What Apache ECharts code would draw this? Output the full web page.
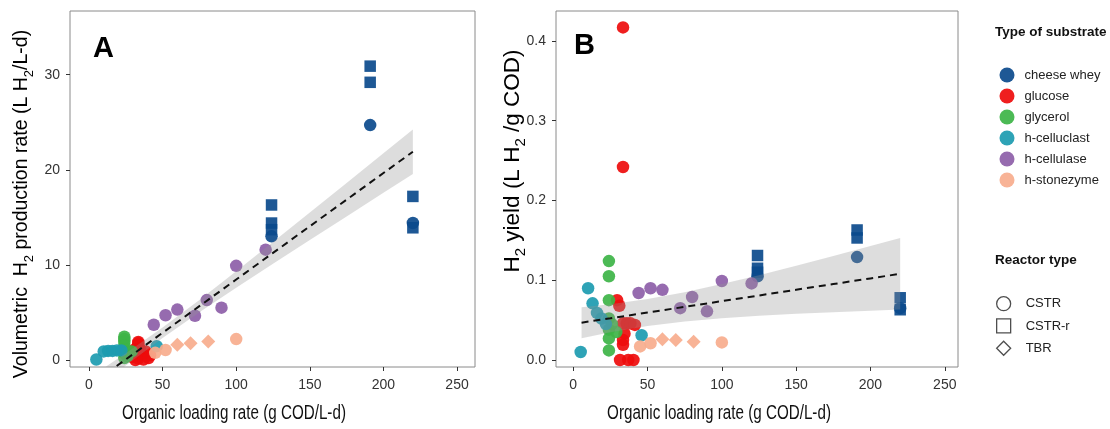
<!DOCTYPE html>
<html>
<head>
<meta charset="utf-8">
<script src="https://cdn.jsdelivr.net/npm/echarts@6/dist/echarts.min.js"></script>
<style>html,body{margin:0;padding:0;background:#fff;}#chart{width:1110px;height:429px;}</style>
</head>
<body>
<div id="chart"></div>
<script>
// ---- data ----
const substrates = ['cheese whey', 'glucose', 'glycerol', 'h-celluclast', 'h-cellulase', 'h-stonezyme'];
const reactorTypes = ['CSTR', 'CSTR-r', 'TBR'];
const xTicks = [0, 50, 100, 150, 200, 250];
const yTicksA = [0, 10, 20, 30];
const yTicksB = [0, 0.1, 0.2, 0.3, 0.4];

const cheeseOLR = [191, 191, 191, 124, 124, 124, 124, 220, 220, 220];
const cheeseReactor = ['CSTR-r', 'CSTR-r', 'CSTR', 'CSTR-r', 'CSTR-r', 'CSTR-r', 'CSTR', 'CSTR-r', 'CSTR', 'CSTR-r'];
const cheeseHPR = [30.9, 29.2, 24.7, 16.3, 14.4, 13.7, 13.0, 17.2, 14.4, 13.9];
const cheeseYield = [0.163, 0.153, 0.129, 0.131, 0.115, 0.110, 0.105, 0.078, 0.065, 0.063];

const glucoseOLR = [33.5, 33.5, 29.5, 31, 33.5, 36, 38.5, 41.5, 34.5, 33.5, 33.5, 31.5, 37, 40.5];
const glucoseReactor = ['CSTR', 'CSTR', 'CSTR', 'CSTR', 'CSTR', 'CSTR', 'CSTR', 'CSTR', 'CSTR', 'CSTR', 'CSTR', 'CSTR', 'CSTR', 'CSTR'];
const glucoseHPR = [1.75, 1.9, 0.3, 1.1, 1.5, 0.6, 0.9, 0.5, 1.2, 0.4, 0.15, 0.0, 0.05, 0.2];
const glucoseYield = [0.417, 0.242, 0.075, 0.068, 0.046, 0.046, 0.046, 0.044, 0.033, 0.025, 0.019, 0.0, 0.0, 0.0];

const glycerolOLR = [24, 24, 24, 24, 24, 24, 24, 26, 29];
const glycerolReactor = ['CSTR', 'CSTR', 'CSTR', 'CSTR', 'CSTR', 'CSTR', 'CSTR', 'CSTR', 'CSTR'];
const glycerolHPR = [2.45, 2.2, 1.9, 1.5, 1.1, 0.7, 0.2, 0.4, 0.9];
const glycerolYield = [0.124, 0.105, 0.075, 0.052, 0.038, 0.027, 0.012, 0.045, 0.035];

const celluclastOLR = [5, 10, 13, 16, 19, 22, 46];
const celluclastReactor = ['CSTR', 'CSTR', 'CSTR', 'CSTR', 'CSTR', 'CSTR', 'CSTR'];
const celluclastHPR = [0.05, 0.9, 0.95, 0.95, 1.0, 1.0, 1.45];
const celluclastYield = [0.010, 0.090, 0.071, 0.059, 0.052, 0.045, 0.031];

const cellulaseOLR = [44, 52, 60, 72, 80, 90, 100, 120];
const cellulaseReactor = ['CSTR', 'CSTR', 'CSTR', 'CSTR', 'CSTR', 'CSTR', 'CSTR', 'CSTR'];
const cellulaseHPR = [3.7, 4.7, 5.3, 4.65, 6.3, 5.5, 9.9, 11.6];
const cellulaseYield = [0.084, 0.090, 0.088, 0.065, 0.079, 0.061, 0.099, 0.096];

const stonezymeOLR = [45, 52, 60, 69, 81, 100];
const stonezymeReactor = ['CSTR', 'CSTR', 'TBR', 'TBR', 'TBR', 'CSTR'];
const stonezymeHPR = [0.75, 1.05, 1.6, 1.75, 1.93, 2.2];
const stonezymeYield = [0.017, 0.021, 0.026, 0.025, 0.023, 0.022];

// linear fits with confidence band
const fitOLR = [5.6, 25, 50, 75, 100, 125, 150, 175, 200, 220];
const fitA = [-2.12, 0.06, 2.86, 5.66, 8.46, 11.26, 14.06, 16.86, 19.66, 21.9];
const fitALow = [-2.93, -0.58, 2.31, 5.02, 7.59, 10.11, 12.61, 15.10, 17.58, 19.56];
const fitAHigh = [-1.31, 0.70, 3.41, 6.30, 9.33, 12.41, 15.51, 18.62, 21.74, 24.24];
const fitB = [0.0468, 0.0523, 0.0595, 0.0666, 0.0738, 0.0809, 0.0881, 0.0952, 0.1023, 0.1081];
const fitBLow = [0.0274, 0.0347, 0.0425, 0.0482, 0.0524, 0.0554, 0.0580, 0.0600, 0.0618, 0.0633];
const fitBHigh = [0.0662, 0.0700, 0.0765, 0.0850, 0.0952, 0.1064, 0.1182, 0.1304, 0.1428, 0.1529];

// ---- styling ----
const colors = ['#0B4A8C', '#EE0C0C', '#3DB447', '#1C9BB0', '#8D5EA8', '#F7AD8D'];
const shapeOf = { 'CSTR': 'circle', 'CSTR-r': 'rect', 'TBR': 'diamond' };
const sizeOf = { 'CSTR': 12.5, 'CSTR-r': 11.5, 'TBR': 14 };
const groups = [
  [cheeseOLR, cheeseReactor, cheeseHPR, cheeseYield],
  [glucoseOLR, glucoseReactor, glucoseHPR, glucoseYield],
  [glycerolOLR, glycerolReactor, glycerolHPR, glycerolYield],
  [celluclastOLR, celluclastReactor, celluclastHPR, celluclastYield],
  [cellulaseOLR, cellulaseReactor, cellulaseHPR, cellulaseYield],
  [stonezymeOLR, stonezymeReactor, stonezymeHPR, stonezymeYield]
];

const tickFont = 'Liberation Sans';
const axisText = '#333';

function makeAxisX(gridIndex, min, max) {
  return {
    type: 'value', gridIndex, min, max,
    axisLine: { show: false, onZero: false },
    splitLine: { show: false },
    axisTick: { show: true, length: 4, lineStyle: { color: '#333' }, customValues: xTicks },
    axisLabel: { customValues: xTicks, fontFamily: tickFont, fontSize: 14, color: axisText, margin: 11 }
  };
}
function makeAxisY(gridIndex, min, max, ticks, digits) {
  return {
    type: 'value', gridIndex, min, max,
    axisLine: { show: false, onZero: false },
    splitLine: { show: false },
    axisTick: { show: true, length: 4, lineStyle: { color: '#333' }, customValues: ticks },
    axisLabel: { customValues: ticks, fontFamily: tickFont, fontSize: 14, color: axisText, margin: 10,
      formatter: v => v.toFixed(digits) }
  };
}

const series = [];
groups.forEach((g, k) => {
  const [olr, reactor, hpr, yld] = g;
  [[hpr, 0], [yld, 1]].forEach(([vals, idx]) => {
    series.push({
      type: 'scatter', name: substrates[k], xAxisIndex: idx, yAxisIndex: idx,
      symbol: 'circle', z: 2,
      itemStyle: { color: colors[k], opacity: 0.92 },
      emphasis: { disabled: true },
      data: olr.map((x, i) => ({ value: [x, vals[i]], symbol: shapeOf[reactor[i]], symbolSize: sizeOf[reactor[i]] }))
    });
  });
});
// reactor type legend entries (no marks)
reactorTypes.forEach(r => {
  series.push({ type: 'scatter', name: r, symbol: shapeOf[r], data: [], xAxisIndex: 0, yAxisIndex: 0,
    itemStyle: { color: 'rgba(0,0,0,0)', borderColor: '#222', borderWidth: 1.3 } });
});

function band(idx, low, high) {
  return {
    type: 'custom', xAxisIndex: idx, yAxisIndex: idx, clip: true, z: 3, silent: true,
    data: fitOLR.map((x, i) => [x, low[i], high[i]]),
    encode: { x: 0, y: [1, 2] },
    renderItem: (params, api) => {
      if (params.dataIndex !== 0) return;
      const pts = [];
      for (let i = 0; i < fitOLR.length; i++) pts.push(api.coord([fitOLR[i], high[i]]));
      for (let i = fitOLR.length - 1; i >= 0; i--) pts.push(api.coord([fitOLR[i], low[i]]));
      return { type: 'polygon', shape: { points: pts }, style: { fill: 'rgba(150,150,150,0.32)' } };
    }
  };
}
function fitLine(idx, vals) {
  return {
    type: 'line', xAxisIndex: idx, yAxisIndex: idx, z: 4, silent: true,
    showSymbol: false, symbol: 'none', clip: true,
    lineStyle: { color: '#111', width: 2, type: [7, 5] },
    data: fitOLR.map((x, i) => [x, vals[i]])
  };
}
series.push(band(0, fitALow, fitAHigh), fitLine(0, fitA), band(1, fitBLow, fitBHigh), fitLine(1, fitB));

function titleRich(size) {
  return {
    n: { fontFamily: 'Liberation Sans', fontSize: size, color: '#111', lineHeight: Math.round(size * 1.4), verticalAlign: 'middle' },
    s: { fontFamily: 'Liberation Sans', fontSize: Math.round(size * 0.68), color: '#111', lineHeight: Math.round(size * 1.4), verticalAlign: 'bottom' }
  };
}
const xTitleStyle = { fontFamily: 'Liberation Sans', fontSize: 20, fill: '#111' };

const option = {
  animation: false,
  backgroundColor: '#fff',
  grid: [
    { left: 70, top: 11, width: 405, height: 356, show: true, borderColor: '#8a8a8a', borderWidth: 1, backgroundColor: '#fff' },
    { left: 556, top: 11, width: 402, height: 356, show: true, borderColor: '#8a8a8a', borderWidth: 1, backgroundColor: '#fff' }
  ],
  xAxis: [makeAxisX(0, -12.9, 262.2), makeAxisX(1, -11.6, 258.9)],
  yAxis: [makeAxisY(0, -0.74, 36.7, yTicksA, 0), makeAxisY(1, -0.0088, 0.4376, yTicksB, 1)],
  legend: [
    { data: substrates, orient: 'vertical', left: 994.5, top: 62.5, itemWidth: 15, itemHeight: 15, itemGap: 6,
      icon: 'circle', selectedMode: false,
      textStyle: { fontFamily: 'Liberation Sans', fontSize: 13, color: '#222', padding: [0, 0, 0, 5] } },
    { data: reactorTypes.map(r => ({ name: r, icon: shapeOf[r] })), orient: 'vertical', left: 991, top: 291,
      itemWidth: 14, itemHeight: 14, itemGap: 7, selectedMode: false,
      itemStyle: { color: 'rgba(0,0,0,0)', borderColor: '#222', borderWidth: 1.3 },
      textStyle: { fontFamily: 'Liberation Sans', fontSize: 13, color: '#222', padding: [0, 0, 0, 10] } }
  ],
  graphic: [
    { type: 'text', left: 93, top: 34, style: { text: 'A', fontFamily: 'Liberation Sans', fontWeight: 'bold', fontSize: 29, fill: '#000' } },
    { type: 'text', left: 574, top: 31, style: { text: 'B', fontFamily: 'Liberation Sans', fontWeight: 'bold', fontSize: 29, fill: '#000' } },
    { type: 'text', x: 22, y: 204, rotation: Math.PI / 2,
      style: { text: '{n|Volumetric  H}{s|2}{n| production rate (L H}{s|2}{n|/L-d)}', rich: titleRich(19.5), align: 'center', verticalAlign: 'middle' } },
    { type: 'text', x: 513, y: 161, rotation: Math.PI / 2,
      style: { text: '{n|H}{s|2}{n| yield (L H}{s|2}{n| /g COD)}', rich: titleRich(22.5), align: 'center', verticalAlign: 'middle' } },
    { type: 'text', x: 234, y: 413, scaleX: 0.76, style: Object.assign({ text: 'Organic loading rate (g COD/L-d)', align: 'center', verticalAlign: 'middle' }, xTitleStyle) },
    { type: 'text', x: 719, y: 413, scaleX: 0.76, style: Object.assign({ text: 'Organic loading rate (g COD/L-d)', align: 'center', verticalAlign: 'middle' }, xTitleStyle) },
    { type: 'text', x: 995, y: 32, style: { text: 'Type of substrate', fontFamily: 'Liberation Sans', fontWeight: 'bold', fontSize: 13.5, fill: '#111', verticalAlign: 'middle' } },
    { type: 'text', x: 995, y: 260, style: { text: 'Reactor type', fontFamily: 'Liberation Sans', fontWeight: 'bold', fontSize: 13.5, fill: '#111', verticalAlign: 'middle' } }
  ],
  series
};

const chart = echarts.init(document.getElementById('chart'), null, { renderer: 'canvas' });
chart.setOption(option);
</script>
</body>
</html>
